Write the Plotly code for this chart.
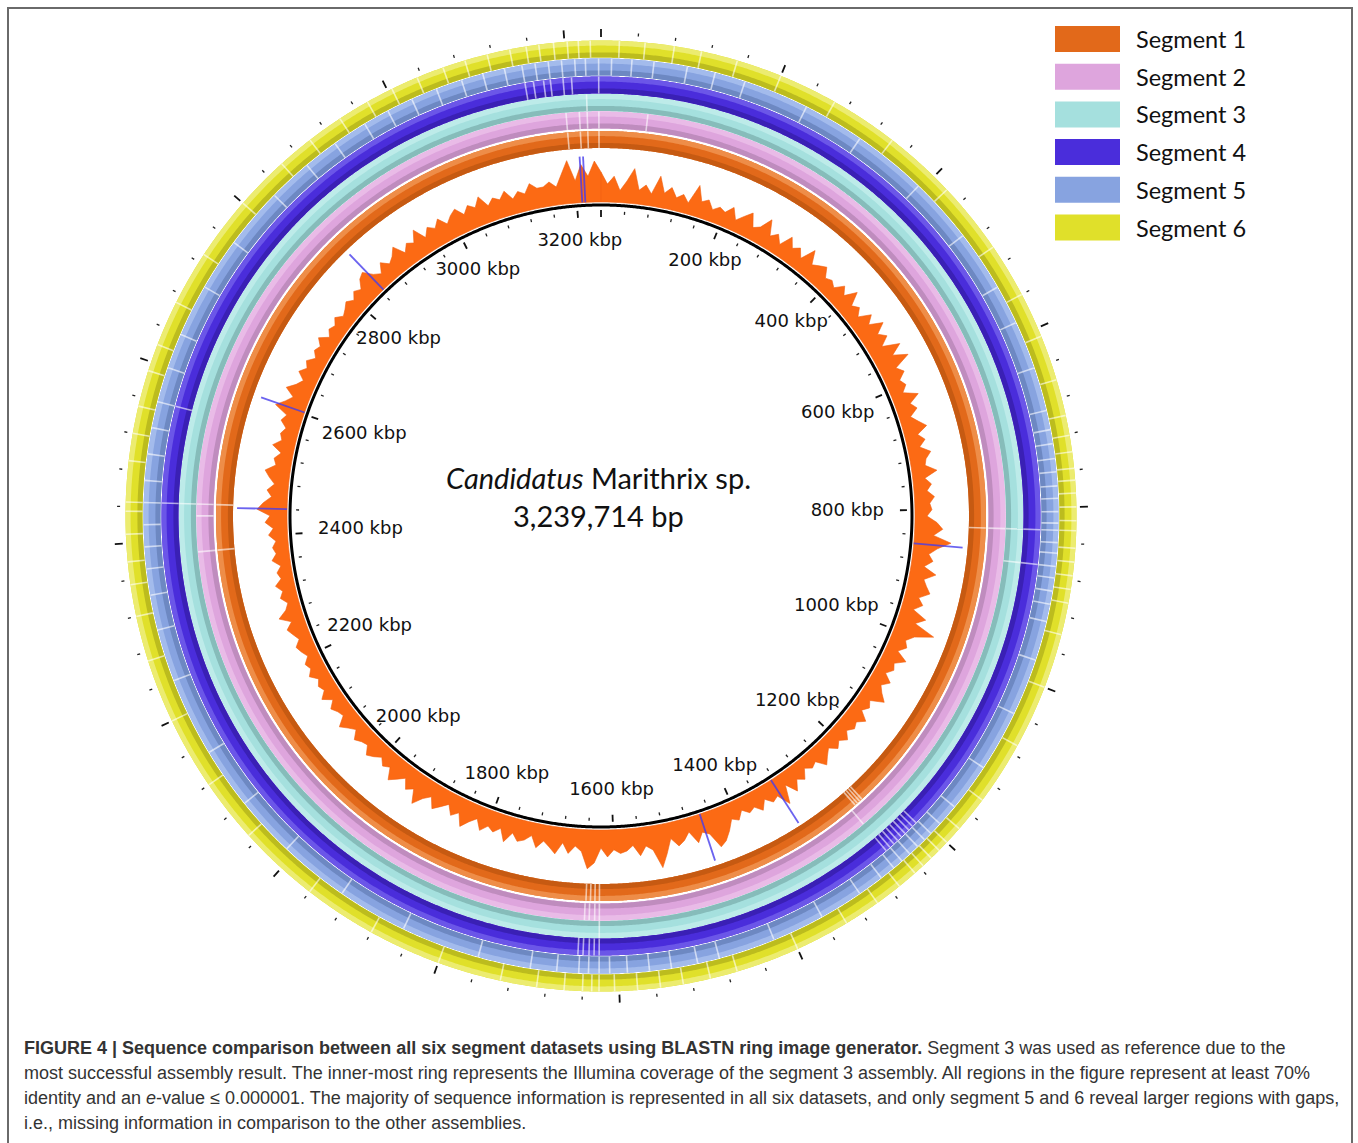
import numpy as np
import plotly.graph_objects as go

# ---------------- data ----------------
GENOME_BP = 3239714
BIN_KBP = 10

segments = ["Segment 1", "Segment 2", "Segment 3", "Segment 4", "Segment 5", "Segment 6"]
seg_main = ["#e2691a", "#dea5dd", "#a5e0de", "#4a2ddb", "#87a3e0", "#e0e02a"]
seg_light = ["#ee8d48", "#e9bbe7", "#bdebe9", "#6b56e8", "#a3bbec", "#ecec70"]
seg_dark = ["#c65a12", "#bf8cbe", "#86bcba", "#3a20b5", "#6d88c2", "#bcbc1e"]

# Illumina coverage (ring height, read every 10 kbp)
coverage = [
    30, 18, 26, 12, 22, 35, 14, 20, 12, 31, 15, 22, 13, 18, 11, 31, 16, 20, 12, 17,
    14, 22, 11, 18, 25, 12, 16, 28, 13, 19, 11, 24, 15, 20, 12, 27, 14, 18, 22, 13,
    16, 12, 21, 14, 26, 13, 18, 11, 23, 15, 28, 17, 24, 14, 31, 19, 33, 16, 22, 14,
    18, 12, 26, 15, 20, 11, 17, 24, 13, 19, 12, 22, 16, 14, 25, 12, 18, 13, 20, 15,
    17, 12, 22, 28, 19, 37, 24, 16, 21, 13, 26, 15, 19, 24, 14, 20, 12, 27, 18, 40,
    22, 15, 19, 12, 24, 14, 17, 11, 20, 13, 18, 25, 12, 16, 11, 21, 14, 17, 12, 19,
    13, 18, 11, 16, 22, 12, 15, 10, 19, 14, 24, 12, 30, 17, 20, 13, 22, 15, 18, 12,
    20, 16, 26, 34, 38, 22, 18, 27, 14, 21, 25, 16, 30, 43, 24, 19, 28, 17, 22, 24,
    20, 27, 18, 33, 39, 22, 17, 25, 15, 27, 21, 16, 24, 13, 19, 22, 15, 26, 14, 20,
    16, 23, 13, 19, 27, 15, 21, 12, 18, 24, 14, 20, 30, 17, 22, 13, 19, 25, 14, 18,
    12, 17, 21, 13, 15, 19, 11, 16, 22, 12, 14, 18, 11, 20, 13, 16, 12, 19, 14, 17,
    11, 15, 18, 12, 16, 20, 13, 24, 15, 11, 17, 13, 19, 12, 15, 10, 18, 13, 16, 12,
    19, 14, 22, 17, 30, 24, 16, 21, 14, 20, 25, 15, 18, 12, 22, 14, 17, 13, 20, 16,
    30, 22, 16, 26, 18, 13, 21, 15, 19, 12, 17, 14, 20, 11, 16, 13, 18, 12, 15, 19,
    14, 20, 16, 24, 27, 18, 13, 22, 15, 19, 26, 14, 21, 17, 28, 15, 23, 18, 25, 16,
    22, 26, 17, 24, 19, 28, 16, 22, 18, 25, 15, 21, 17, 26, 20, 20, 24, 18, 30, 43, 22, 38, 26, 41,
]

# blue spikes overlaid on coverage (position kbp, height)
spike_kbp = [3209, 3214, 2845, 2603, 2441, 855, 1325, 1455]
spike_height = [46, 46, 49, 46, 50, 49, 51, 49]

# gap positions (kbp) in each BLAST ring
gaps_seg1 = [3195, 3212, 3222, 3237, 1622, 1628, 1634, 1640, 1236, 1240, 1244, 1248, 826, 2384, 2445]
gaps_seg2 = [3195, 3212, 3222, 3237, 1622, 1628, 1635, 1641, 1256, 826, 2384, 2430, 2445, 60]
gaps_seg3 = [826, 867, 2445, 1622, 3222]
gaps_seg4 = [3150, 3160, 3172, 3180, 3195, 3205, 3237, 826, 867, 2445, 2560,
             1208, 1214, 1220, 1226, 1232, 1238, 1244, 1250, 1256,
             1622, 1628, 1634, 1641, 1647]
gaps_seg5 = [12, 35, 60, 98, 130, 165, 240, 310, 395, 470, 540, 585, 640, 690, 712, 728,
             745, 760, 776, 790, 805, 818, 826, 840, 852, 867, 880, 895, 910, 930, 975,
             1040, 1110, 1165, 1190, 1205, 1215, 1226, 1238, 1250, 1262, 1280, 1310, 1360,
             1420, 1485, 1510, 1540, 1565, 1590, 1610, 1622, 1634, 1645, 1670, 1700, 1760,
             1850, 1930, 2010, 2080, 2150, 2240, 2300, 2340, 2370, 2395, 2420, 2445, 2470,
             2500, 2530, 2560, 2600, 2640, 2700, 2760, 2830, 2880, 2920, 2960, 2990, 3020,
             3050, 3080, 3105, 3130, 3150, 3165, 3180, 3195, 3210, 3222, 3237]
gaps_seg6 = [20, 48, 80, 110, 150, 200, 265, 340, 420, 500, 560, 610, 660, 700, 722, 740,
             758, 771, 785, 800, 815, 826, 845, 860, 875, 890, 905, 940, 1000, 1070, 1140,
             1180, 1200, 1212, 1224, 1236, 1248, 1270, 1300, 1340, 1400, 1470, 1500, 1530,
             1555, 1580, 1605, 1622, 1630, 1640, 1660, 1690, 1730, 1800, 1880, 1960, 2050,
             2120, 2200, 2270, 2320, 2355, 2380, 2410, 2435, 2445, 2490, 2520, 2550, 2590,
             2620, 2670, 2730, 2800, 2860, 2900, 2940, 2975, 3005, 3035, 3065, 3090, 3115,
             3140, 3158, 3172, 3188, 3203, 3215, 3228]
seg_gaps = [gaps_seg1, gaps_seg2, gaps_seg3, gaps_seg4, gaps_seg5, gaps_seg6]

label_kbp = [200, 400, 600, 800, 1000, 1200, 1400, 1600, 1800, 2000,
             2200, 2400, 2600, 2800, 3000, 3200]
TICK_STEP_KBP = 40
MAJOR_STEP_KBP = 200

# ---------------- geometry / style ----------------
W, H = 1358, 1143
CX, CY = 601, 516
RMAX = 490
R_CIRCLE = 311
R_COV = 314
RING_IN = [368, 387.5, 405, 422.5, 440.5, 458.5]
RING_W = 17


def deg(kbp):
    return np.asarray(kbp, dtype=float) * 1000.0 / GENOME_BP * 360.0


fig = go.Figure()
circ_t = np.linspace(0, 360, 1441)


def add_circle(r, width, color):
    fig.add_trace(go.Scatterpolar(
        r=np.full_like(circ_t, r), theta=circ_t, mode="lines",
        line=dict(color=color, width=width), hoverinfo="skip", showlegend=False))


def add_radials(thetas, r0, r1, color, width):
    rr, tt = [], []
    r0s = np.broadcast_to(np.asarray(r0, dtype=float), (len(thetas),))
    r1s = np.broadcast_to(np.asarray(r1, dtype=float), (len(thetas),))
    for t, a, b in zip(thetas, r0s, r1s):
        rr += [float(a), float(b), None]
        tt += [float(t), float(t), None]
    fig.add_trace(go.Scatterpolar(
        r=rr, theta=tt, mode="lines", line=dict(color=color, width=width),
        hoverinfo="skip", showlegend=False, connectgaps=False))


# BLAST rings
for k in range(6):
    r0 = RING_IN[k]
    r1 = r0 + RING_W
    add_circle((r0 + r1) / 2, RING_W, seg_main[k])
    dw = RING_W * 0.3
    add_circle(r0 + dw / 2, dw, seg_dark[k])
    lw = RING_W * 0.3
    add_circle(r1 - lw / 2, lw, seg_light[k])
    add_radials(deg(seg_gaps[k]), r0, r1, "rgba(255,255,255,0.6)", 1.6)

# coverage envelope
cov = np.array(coverage, dtype=float)
cov_t = deg(np.arange(len(cov)) * BIN_KBP)
t_out = np.append(cov_t, 360.0)
r_out = np.append(R_COV + cov, R_COV + cov[0])
t_in = t_out[::-1]
r_in = np.full_like(t_in, R_COV)
fig.add_trace(go.Scatterpolar(
    r=np.concatenate([r_out, r_in]), theta=np.concatenate([t_out, t_in]),
    mode="lines", fill="toself", fillcolor="#fc6a14",
    line=dict(color="#f06010", width=0.6), hoverinfo="skip", showlegend=False))

# blue spikes
add_radials(deg(spike_kbp), R_COV, R_COV + np.array(spike_height, dtype=float),
            "rgba(70,60,235,0.8)", 1.8)

# inner black circle
add_circle(R_CIRCLE, 3, "#000000")

# ticks
tick_kbp = np.arange(0, GENOME_BP / 1000.0, TICK_STEP_KBP)
minor = [t for t in tick_kbp if t % MAJOR_STEP_KBP != 0]
major = [t for t in tick_kbp if t % MAJOR_STEP_KBP == 0]
add_radials(deg(minor), 302, 305, "#222", 1.3)
add_radials(deg(major), 299, 306, "#111", 1.8)
add_radials(deg(minor), 481, 484, "#222", 1.3)
add_radials(deg(major), 479, 487, "#111", 1.8)

# position labels
LABEL_FS = 18
R_LABEL = 275
lab_r, lab_t, lab_txt = [], [], []
for k in label_kbp:
    txt = f"{k} kbp"
    ndig = len(str(k))
    wpx = (ndig * 0.636 + 0.318 + 1.849) * LABEL_FS
    th = float(deg(k))
    s = abs(np.sin(np.radians(th)))
    rc = R_LABEL - (wpx / 2 - 8) * s ** 6
    lab_r.append(rc)
    lab_t.append(th)
    lab_txt.append(txt)
fig.add_trace(go.Scatterpolar(r=lab_r, theta=lab_t, mode="text", text=lab_txt,
                              textposition="middle center",
                              textfont=dict(family="DejaVu Sans", size=LABEL_FS, color="#111"),
                              hoverinfo="skip", showlegend=False))

dom_x = [(CX - RMAX) / W, (CX + RMAX) / W]
dom_y = [(H - CY - RMAX) / H, (H - CY + RMAX) / H]

fig.update_layout(
    width=W, height=H, margin=dict(l=0, r=0, t=0, b=0),
    paper_bgcolor="white", plot_bgcolor="white", showlegend=False,
    polar=dict(
        domain=dict(x=dom_x, y=dom_y), bgcolor="rgba(0,0,0,0)",
        radialaxis=dict(visible=False, range=[0, RMAX]),
        angularaxis=dict(visible=False, rotation=90, direction="clockwise",
                         showgrid=False, showline=False, showticklabels=False, ticks=""),
    ),
)

shapes = []
annotations = []

# frame
shapes.append(dict(type="rect", xref="paper", yref="paper",
                   x0=8 / W, x1=1352 / W, y0=-0.02, y1=1 - 8 / H,
                   line=dict(color="#6a6a6a", width=2), fillcolor="rgba(0,0,0,0)"))

# legend
LEG_X0, LEG_X1, LEG_Y0, LEG_DY, LEG_BH = 1055, 1120, 39, 37.7, 26
for i, (name, col) in enumerate(zip(segments, seg_main)):
    yc = LEG_Y0 + i * LEG_DY
    shapes.append(dict(type="rect", xref="paper", yref="paper",
                       x0=LEG_X0 / W, x1=LEG_X1 / W,
                       y0=1 - (yc + LEG_BH / 2) / H, y1=1 - (yc - LEG_BH / 2) / H,
                       line=dict(width=0), fillcolor=col))
    annotations.append(dict(xref="paper", yref="paper", x=1134 / W, y=1 - yc / H,
                            xanchor="left", yanchor="middle", showarrow=False, text=name,
                            font=dict(family="Lato", size=23.5, color="#111")))

# centre title
annotations.append(dict(xref="paper", yref="paper", x=598 / W, y=1 - 478 / H,
                        xanchor="center", yanchor="middle", showarrow=False,
                        text="<i>Candidatus</i> Marithrix sp.",
                        font=dict(family="Lato", size=29, color="#111")))
annotations.append(dict(xref="paper", yref="paper", x=598 / W, y=1 - 516 / H,
                        xanchor="center", yanchor="middle", showarrow=False,
                        text="3,239,714 bp",
                        font=dict(family="Lato", size=29, color="#111")))

# caption
caption_lines = [
    "<b>FIGURE 4 | Sequence comparison between all six segment datasets using BLASTN ring image generator.</b> Segment 3 was used as reference due to the",
    "most successful assembly result. The inner-most ring represents the Illumina coverage of the segment 3 assembly. All regions in the figure represent at least 70%",
    "identity and an <i>e</i>-value ≤ 0.000001. The majority of sequence information is represented in all six datasets, and only segment 5 and 6 reveal larger regions with gaps,",
    "i.e., missing information in comparison to the other assemblies.",
]
for i, line in enumerate(caption_lines):
    annotations.append(dict(xref="paper", yref="paper", x=22 / W, y=1 - (1048 + 25 * i) / H,
                            xanchor="left", yanchor="middle", showarrow=False, text=line,
                            font=dict(family="Liberation Sans", size=18, color="#333")))

fig.update_layout(shapes=shapes, annotations=annotations)

fig.write_html("out.html", config={"displayModeBar": False},
               post_script="document.body.style.margin='0';document.body.style.overflow='hidden';")
